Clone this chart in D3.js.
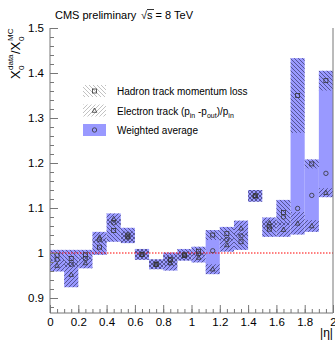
<!DOCTYPE html>
<html>
<head>
<meta charset="utf-8">
<script src="https://cdn.jsdelivr.net/npm/d3@7"></script>
<style>
  body { margin: 0; background: #fff; }
  text { font-family: "Liberation Sans", Arial, sans-serif; }
</style>
</head>
<body>
<svg id="chart" width="335" height="342"></svg>
<script>
// |eta| bins, width 0.1
const binLow = [0, 0.1, 0.2, 0.3, 0.4, 0.5, 0.6, 0.7, 0.8, 0.9, 1.0, 1.1, 1.2, 1.3, 1.4, 1.5, 1.6, 1.7, 1.8, 1.9];
const binWidth = 0.1;

// hadron track momentum loss
const hadronVal = [0.995, 0.988, 0.996, 1.013, 1.050, 1.040, 0.997, 0.975, 0.986, 0.996, 1.004, 1.040, 1.043, 1.025, 1.127, 1.053, 1.090, 1.350, 1.198, 1.383];
const hadronErr = [0.012, 0.019, 0.011, 0.017, 0.025, 0.016, 0.012, 0.011, 0.015, 0.013, 0.010, 0.011, 0.015, 0.018, 0.013, 0.017, 0.028, 0.083, 0.010, 0.022];

// electron track (p_in - p_out)/p_in
const electronVal = [0.972, 0.952, 0.978, 1.035, 1.076, 1.035, 0.997, 0.975, 0.978, 0.994, 0.990, 0.964, 1.018, 1.055, 1.127, 1.067, 1.052, 1.066, 1.060, 1.134];
const electronErr = [0.013, 0.028, 0.012, 0.012, 0.012, 0.013, 0.012, 0.011, 0.017, 0.010, 0.011, 0.011, 0.015, 0.017, 0.013, 0.012, 0.016, 0.025, 0.013, 0.010];

// weighted average
const averageVal = [0.985, 0.975, 0.988, 1.030, 1.067, 1.037, 0.997, 0.975, 0.983, 0.995, 0.998, 1.005, 1.030, 1.038, 1.127, 1.058, 1.080, 1.099, 1.128, 1.177];

const xTicks = [0, 0.2, 0.4, 0.6, 0.8, 1, 1.2, 1.4, 1.6, 1.8, 2];
const yTicks = [0.9, 1, 1.1, 1.2, 1.3, 1.4, 1.5];

const svg = d3.select("#chart");
const margin = { top: 28, right: 2, bottom: 29, left: 50 };
const width = +svg.attr("width");
const height = +svg.attr("height");

const x = d3.scaleLinear().domain([0, 2]).range([margin.left, width - margin.right]);
const y = d3.scaleLinear().domain([0.8667, 1.5]).range([height - margin.bottom, margin.top]);

const blue = "#9999ff";

// hatch patterns (dark ones for the plot, light ones for the legend)
const defs = svg.append("defs");
function hatch(id, d, color) {
  defs.append("pattern")
    .attr("id", id).attr("patternUnits", "userSpaceOnUse")
    .attr("width", 4).attr("height", 4)
    .append("path").attr("d", d)
    .attr("stroke", color).attr("stroke-width", 0.9);
}
const back = "M0,0L4,4M-1,3L1,5M3,-1L5,1";
const fwd = "M0,4L4,0M-1,1L1,-1M3,5L5,3";
hatch("hatchBack", back, "rgba(25,25,60,0.6)");
hatch("hatchFwd", fwd, "rgba(25,25,60,0.6)");
hatch("legBack", back, "#bbb");
hatch("legFwd", fwd, "#bbb");

const bins = binLow.map((lo, i) => {
  const hLo = hadronVal[i] - hadronErr[i], hHi = hadronVal[i] + hadronErr[i];
  const eLo = electronVal[i] - electronErr[i], eHi = electronVal[i] + electronErr[i];
  return {
    lo, hi: lo + binWidth,
    hLo, hHi, eLo, eHi,
    aLo: Math.min(hLo, eLo), aHi: Math.max(hHi, eHi),
    h: hadronVal[i], e: electronVal[i], a: averageVal[i]
  };
});

// weighted average band
svg.append("g").selectAll("rect").data(bins).enter().append("rect")
  .attr("x", d => x(d.lo)).attr("width", d => x(d.hi) - x(d.lo))
  .attr("y", d => y(d.aHi)).attr("height", d => y(d.aLo) - y(d.aHi))
  .attr("fill", blue);

// hadron boxes
svg.append("g").selectAll("rect").data(bins).enter().append("rect")
  .attr("x", d => x(d.lo)).attr("width", d => x(d.hi) - x(d.lo))
  .attr("y", d => y(d.hHi)).attr("height", d => y(d.hLo) - y(d.hHi))
  .attr("fill", "url(#hatchBack)");

// electron boxes
svg.append("g").selectAll("rect").data(bins).enter().append("rect")
  .attr("x", d => x(d.lo)).attr("width", d => x(d.hi) - x(d.lo))
  .attr("y", d => y(d.eHi)).attr("height", d => y(d.eLo) - y(d.eHi))
  .attr("fill", "url(#hatchFwd)");

// reference line at 1
svg.append("line")
  .attr("x1", x(0)).attr("x2", x(2)).attr("y1", y(1)).attr("y2", y(1))
  .attr("stroke", "#ff0000").attr("stroke-width", 1.1).attr("stroke-dasharray", "1.5,1.5");

const mk = { fill: "none", stroke: "#333", sw: 0.8 };
function square(g, cx, cy) {
  g.append("rect").attr("x", cx - 2).attr("y", cy - 2).attr("width", 4).attr("height", 4)
    .attr("fill", mk.fill).attr("stroke", mk.stroke).attr("stroke-width", mk.sw);
}
function triangle(g, cx, cy) {
  g.append("path").attr("d", `M${cx},${cy - 2.5}L${cx + 2.3},${cy + 1.8}L${cx - 2.3},${cy + 1.8}Z`)
    .attr("fill", mk.fill).attr("stroke", mk.stroke).attr("stroke-width", mk.sw);
}
function circle(g, cx, cy) {
  g.append("circle").attr("cx", cx).attr("cy", cy).attr("r", 2.2)
    .attr("fill", mk.fill).attr("stroke", mk.stroke).attr("stroke-width", mk.sw);
}

const markers = svg.append("g");
bins.forEach(d => {
  const cx = x(d.lo + binWidth / 2);
  square(markers, cx, y(d.h));
  triangle(markers, cx, y(d.e));
  circle(markers, cx, y(d.a));
});

// axes
const axisColor = "#777";
const xAxis = svg.append("g").attr("transform", `translate(0,${y.range()[0]})`)
  .call(d3.axisBottom(x).tickValues(xTicks).tickSize(-8).tickPadding(5)
    .tickFormat(d => d === 0 || d === 1 || d === 2 ? d3.format("d")(d) : d.toFixed(1)));
svg.append("g").attr("transform", `translate(0,${y.range()[0]})`)
  .call(d3.axisBottom(x).tickValues(d3.range(0, 2.001, 0.05)).tickSize(-4).tickFormat(""))
  .select(".domain").remove();

const yAxis = svg.append("g").attr("transform", `translate(${x(0)},0)`)
  .call(d3.axisLeft(y).tickValues(yTicks).tickSize(-8).tickPadding(6)
    .tickFormat(d => d === 1 ? "1" : d.toFixed(1)));
svg.append("g").attr("transform", `translate(${x(0)},0)`)
  .call(d3.axisLeft(y).tickValues(d3.range(0.88, 1.501, 0.02)).tickSize(-4).tickFormat(""))
  .select(".domain").remove();

svg.selectAll(".domain, .tick line").attr("stroke", axisColor);
svg.selectAll(".tick text").attr("fill", "#000").style("font-size", "11.5px")
  .style("font-family", "'Liberation Sans', Arial, sans-serif");
xAxis.selectAll(".domain").attr("d", `M${x(0)},0H${x(2)}`);
yAxis.selectAll(".domain").attr("d", `M0,${y.range()[0]}V${y.range()[1]}`);

// right frame edge
svg.append("line")
  .attr("x1", x(2)).attr("x2", x(2)).attr("y1", y.range()[0]).attr("y2", y.range()[1])
  .attr("stroke", axisColor);

// title
svg.append("text").attr("x", 55).attr("y", 19).style("font-size", "11px").text("CMS preliminary");
svg.append("text").attr("x", 141).attr("y", 19).style("font-size", "11px").text("√s = 8 TeV");
svg.append("line").attr("x1", 147).attr("x2", 154).attr("y1", 9.5).attr("y2", 9.5)
  .attr("stroke", "#000").attr("stroke-width", 0.8);

// y title
const yt = svg.append("text").attr("transform", "translate(20,79) rotate(-90)")
  .style("font-size", "13px");
yt.append("tspan").attr("x", 0).attr("y", 0).text("X");
yt.append("tspan").attr("x", 9).attr("y", 4).style("font-size", "8px").text("0");
yt.append("tspan").attr("x", 9).attr("y", -7).style("font-size", "8px").text("data");
yt.append("tspan").attr("x", 25).attr("y", 0).text("/X");
yt.append("tspan").attr("x", 38).attr("y", 4).style("font-size", "8px").text("0");
yt.append("tspan").attr("x", 38).attr("y", -7).style("font-size", "8px").text("MC");

// x title
svg.append("text").attr("x", 333).attr("y", 337).attr("text-anchor", "end")
  .style("font-size", "12px").text("|η|");

// legend
const legendRows = [
  { fill: "url(#legBack)", mark: square, label: "Hadron track momentum loss" },
  { fill: "url(#legFwd)", mark: triangle, label: null },
  { fill: blue, mark: circle, label: "Weighted average" }
];
const legend = svg.append("g");
legendRows.forEach((r, i) => {
  const cy = 91 + i * 19.5;
  legend.append("rect").attr("x", 83).attr("y", cy - 6).attr("width", 23).attr("height", 12)
    .attr("fill", r.fill);
  r.mark(legend, 94.5, cy);
  const t = legend.append("text").attr("x", 117).attr("y", cy + 4).style("font-size", "10px");
  if (r.label) {
    t.text(r.label);
  } else {
    t.append("tspan").text("Electron track  (p");
    t.append("tspan").attr("dy", 3).style("font-size", "7px").text("in");
    t.append("tspan").attr("dy", -3).text(" -p");
    t.append("tspan").attr("dy", 3).style("font-size", "7px").text("out");
    t.append("tspan").attr("dy", -3).text(")/p");
    t.append("tspan").attr("dy", 3).style("font-size", "7px").text("in");
  }
});
</script>
</body>
</html>
